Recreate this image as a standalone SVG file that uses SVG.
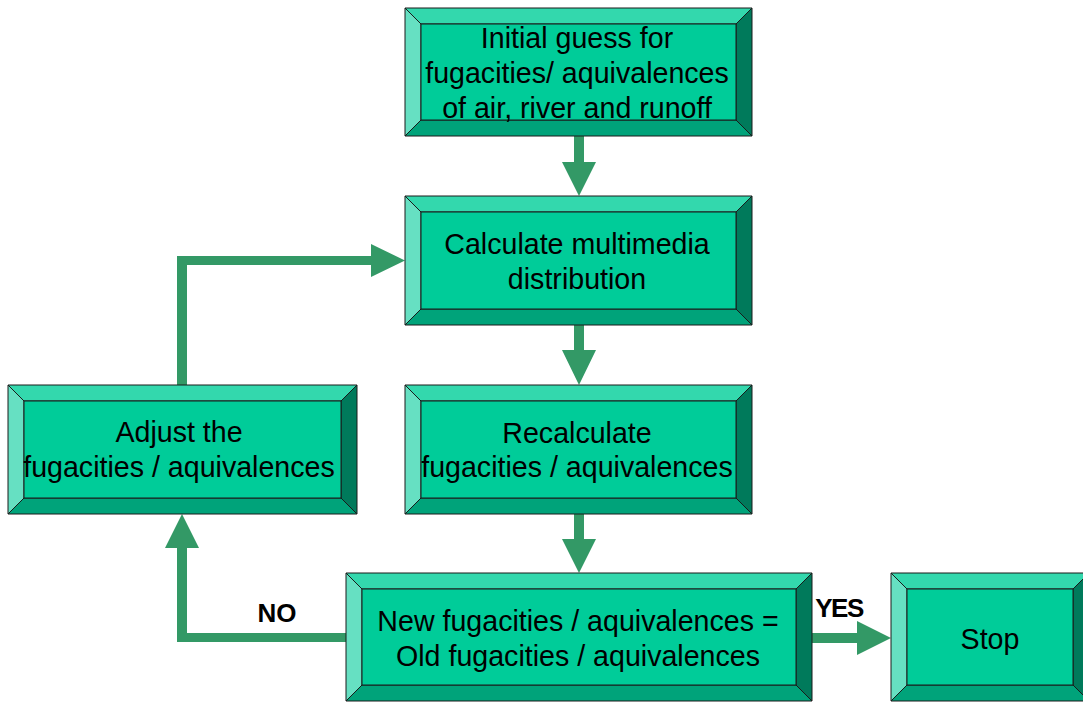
<svg xmlns="http://www.w3.org/2000/svg" width="1083" height="702" viewBox="0 0 1083 702">
<style>
.bv{stroke:#1a1a1a;stroke-width:1;stroke-linejoin:miter}
.t{fill:#33d8ad}.l{fill:#66e0c2}.r{fill:#007a5b}.b{fill:#00a37a}.f{fill:#00cc99}
.txt{font-family:"Liberation Sans",Arial,sans-serif;font-size:28.6px;fill:#000;text-anchor:middle}
.lbl{font-family:"Liberation Sans",Arial,sans-serif;font-size:26px;font-weight:bold;fill:#000;text-anchor:middle}
.arr{fill:#339966}
</style>
<rect width="1083" height="702" fill="#fff"/>
<g id="connectors">
<path class="arr" d="M574,136H584V162H596L579,196L562,162H574Z"/>
<path class="arr" d="M574,325H584V350H596L579,385L562,350H574Z"/>
<path class="arr" d="M574,514H584V539H596L579,573L562,539H574Z"/>
<path class="arr" d="M177,385V256H371V244L405,260.5L371,277V265H187V385Z"/>
<path class="arr" d="M346,633H187V548H199L182,514L165,548H177V642H346Z"/>
<path class="arr" d="M812,633H857V621L891,638L857,655V643H812Z"/>
<text class="lbl" x="277" y="622">NO</text>
<text class="lbl" x="839" y="617" letter-spacing="-1.5">YES</text>
</g>
<g id="initial">
<polygon class="bv t" points="405,8 752,8 736,24 421,24"/>
<polygon class="bv l" points="405,8 421,24 421,120 405,136"/>
<polygon class="bv r" points="752,8 752,136 736,120 736,24"/>
<polygon class="bv b" points="405,136 752,136 736,120 421,120"/>
<rect class="bv f" x="421" y="24" width="315" height="96"/>
<text class="txt" x="577" y="48">Initial guess for</text>
<text class="txt" x="577" y="83">fugacities/ aquivalences</text>
<text class="txt" x="577" y="118">of air, river and runoff</text>
</g>
<g id="calculate">
<polygon class="bv t" points="405,196 752,196 736,212 421,212"/>
<polygon class="bv l" points="405,196 421,212 421,309 405,325"/>
<polygon class="bv r" points="752,196 752,325 736,309 736,212"/>
<polygon class="bv b" points="405,325 752,325 736,309 421,309"/>
<rect class="bv f" x="421" y="212" width="315" height="97"/>
<text class="txt" x="577" y="254">Calculate multimedia</text>
<text class="txt" x="577" y="289">distribution</text>
</g>
<g id="recalculate">
<polygon class="bv t" points="405,385 752,385 736,401 421,401"/>
<polygon class="bv l" points="405,385 421,401 421,498 405,514"/>
<polygon class="bv r" points="752,385 752,514 736,498 736,401"/>
<polygon class="bv b" points="405,514 752,514 736,498 421,498"/>
<rect class="bv f" x="421" y="401" width="315" height="97"/>
<text class="txt" x="577" y="443">Recalculate</text>
<text class="txt" x="577" y="477">fugacities / aquivalences</text>
</g>
<g id="adjust">
<polygon class="bv t" points="8,385 357,385 341,401 24,401"/>
<polygon class="bv l" points="8,385 24,401 24,498 8,514"/>
<polygon class="bv r" points="357,385 357,514 341,498 341,401"/>
<polygon class="bv b" points="8,514 357,514 341,498 24,498"/>
<rect class="bv f" x="24" y="401" width="317" height="97"/>
<text class="txt" x="179" y="442">Adjust the</text>
<text class="txt" x="179" y="477">fugacities / aquivalences</text>
</g>
<g id="compare">
<polygon class="bv t" points="346,573 812,573 796,589 362,589"/>
<polygon class="bv l" points="346,573 362,589 362,685 346,701"/>
<polygon class="bv r" points="812,573 812,701 796,685 796,589"/>
<polygon class="bv b" points="346,701 812,701 796,685 362,685"/>
<rect class="bv f" x="362" y="589" width="434" height="96"/>
<text class="txt" x="578" y="631">New fugacities / aquivalences =</text>
<text class="txt" x="578" y="666">Old fugacities / aquivalences</text>
</g>
<g id="stop">
<polygon class="bv t" points="891,573 1089,573 1073,589 907,589"/>
<polygon class="bv l" points="891,573 907,589 907,685 891,701"/>
<polygon class="bv r" points="1089,573 1089,701 1073,685 1073,589"/>
<polygon class="bv b" points="891,701 1089,701 1073,685 907,685"/>
<rect class="bv f" x="907" y="589" width="166" height="96"/>
<text class="txt" x="990" y="649">Stop</text>
</g>
</svg>
